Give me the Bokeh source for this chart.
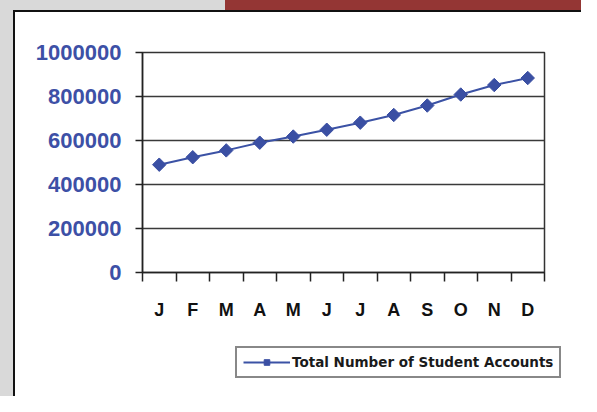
from bokeh.plotting import figure
from bokeh.models import FixedTicker, Range1d, Legend, LegendItem
from bokeh.embed import file_html
from bokeh.resources import INLINE

months = ["J", "F", "M", "A", "M", "J", "J", "A", "S", "O", "N", "D"]
accounts = [490000, 524000, 555000, 590000, 618000, 649000, 681000, 716000, 759000, 809000, 852000, 884000]
y_ticks = [0, 200000, 400000, 600000, 800000, 1000000]
y_tick_labels = ["0", "200000", "400000", "600000", "800000", "1000000"]
series_name = "Total Number of Student Accounts"

x_centers = [i + 0.5 for i in range(len(months))]
x_bounds = [float(i) for i in range(len(months) + 1)]

bg = ("linear-gradient(#943634,#943634) 225px 0 / 356px 10px no-repeat, "
      "linear-gradient(#111,#111) 13px 10px / 568px 2px no-repeat, "
      "linear-gradient(#111,#111) 13px 10px / 2px 386px no-repeat, "
      "linear-gradient(#d9d9d9,#d9d9d9) 0 0 / 225px 10px no-repeat, "
      "linear-gradient(#d9d9d9,#d9d9d9) 0 0 / 13px 100% no-repeat, #ffffff")
bg2 = ("linear-gradient(#111,#111) 13px 0 / 2px 100% no-repeat, "
       "linear-gradient(#d9d9d9,#d9d9d9) 0 0 / 13px 100% no-repeat, #ffffff")

p = figure(width=581, height=340, output_backend="svg", toolbar_location=None,
           x_range=Range1d(0, len(months)), y_range=Range1d(0, 1000000),
           min_border_left=142, min_border_right=37, min_border_top=52, min_border_bottom=68,
           border_fill_color=None, background_fill_color="white",
           outline_line_color="#333333", outline_line_width=1.5,
           styles={"background": bg})

line_color = "#3b52a5"
marker_color = "#3a4fa3"
ln = p.line(x_centers, accounts, line_color=line_color, line_width=2)
sc = p.scatter(x_centers, accounts, marker="square", angle=0.7854, size=9.5,
               fill_color=marker_color, line_color=marker_color)

# x axis
xa = p.xaxis[0]
xa.ticker = FixedTicker(ticks=x_centers, minor_ticks=x_bounds)
xa.major_label_overrides = {c: m for c, m in zip(x_centers, months)}
xa.major_tick_line_color = None
xa.major_tick_out = 0
xa.major_tick_in = 0
xa.minor_tick_out = 9
xa.minor_tick_in = 0
xa.minor_tick_line_color = "#222222"
xa.minor_tick_line_width = 1.5
xa.axis_line_color = "#222222"
xa.axis_line_width = 1.5
xa.major_label_standoff = 18
xa.major_label_text_font = "Liberation Sans"
xa.major_label_text_font_style = "bold"
xa.major_label_text_font_size = "18px"
xa.major_label_text_color = "#111111"

# y axis
ya = p.yaxis[0]
ya.ticker = FixedTicker(ticks=y_ticks)
ya.major_label_overrides = {t: l for t, l in zip(y_ticks, y_tick_labels)}
ya.minor_tick_line_color = None
ya.major_tick_out = 7
ya.major_tick_in = 0
ya.major_tick_line_color = "#222222"
ya.major_tick_line_width = 1.5
ya.axis_line_color = "#222222"
ya.axis_line_width = 1.5
ya.major_label_standoff = 14
ya.major_label_text_font = "Liberation Sans"
ya.major_label_text_font_style = "bold"
ya.major_label_text_font_size = "22px"
ya.major_label_text_color = "#3d50a6"

p.xgrid.visible = False
p.ygrid.ticker = FixedTicker(ticks=y_ticks)
p.ygrid.grid_line_color = "#3a3a3a"
p.ygrid.grid_line_width = 1.5

# legend strip below the chart
p2 = figure(width=581, height=56, output_backend="svg", toolbar_location=None,
            x_axis_location=None, y_axis_location=None,
            min_border=0, min_border_left=0, min_border_right=0,
            min_border_top=0, min_border_bottom=0,
            border_fill_color=None, background_fill_color=None,
            outline_line_color=None, styles={"background": bg2})
p2.xgrid.visible = False
p2.ygrid.visible = False
ln2 = p2.line(x_centers, accounts, line_color=line_color, line_width=2, visible=False)
sc2 = p2.scatter(x_centers, accounts, marker="square", angle=0.7854, size=7,
                 fill_color=marker_color, line_color=marker_color, visible=False)

legend = Legend(items=[LegendItem(label=series_name, renderers=[ln2, sc2])],
                location=(235, 18), margin=0, padding=6,
                glyph_width=47, glyph_height=14, label_standoff=2,
                label_text_font="DejaVu Sans", label_text_font_style="bold",
                label_text_font_size="13.5px", label_text_color="#1a1a1a",
                border_line_color="#111111", border_line_width=2,
                background_fill_color="white", background_fill_alpha=1,
                inactive_fill_alpha=0)
p2.add_layout(legend, "center")

open("out.html", "w").write(file_html([p, p2], INLINE))
